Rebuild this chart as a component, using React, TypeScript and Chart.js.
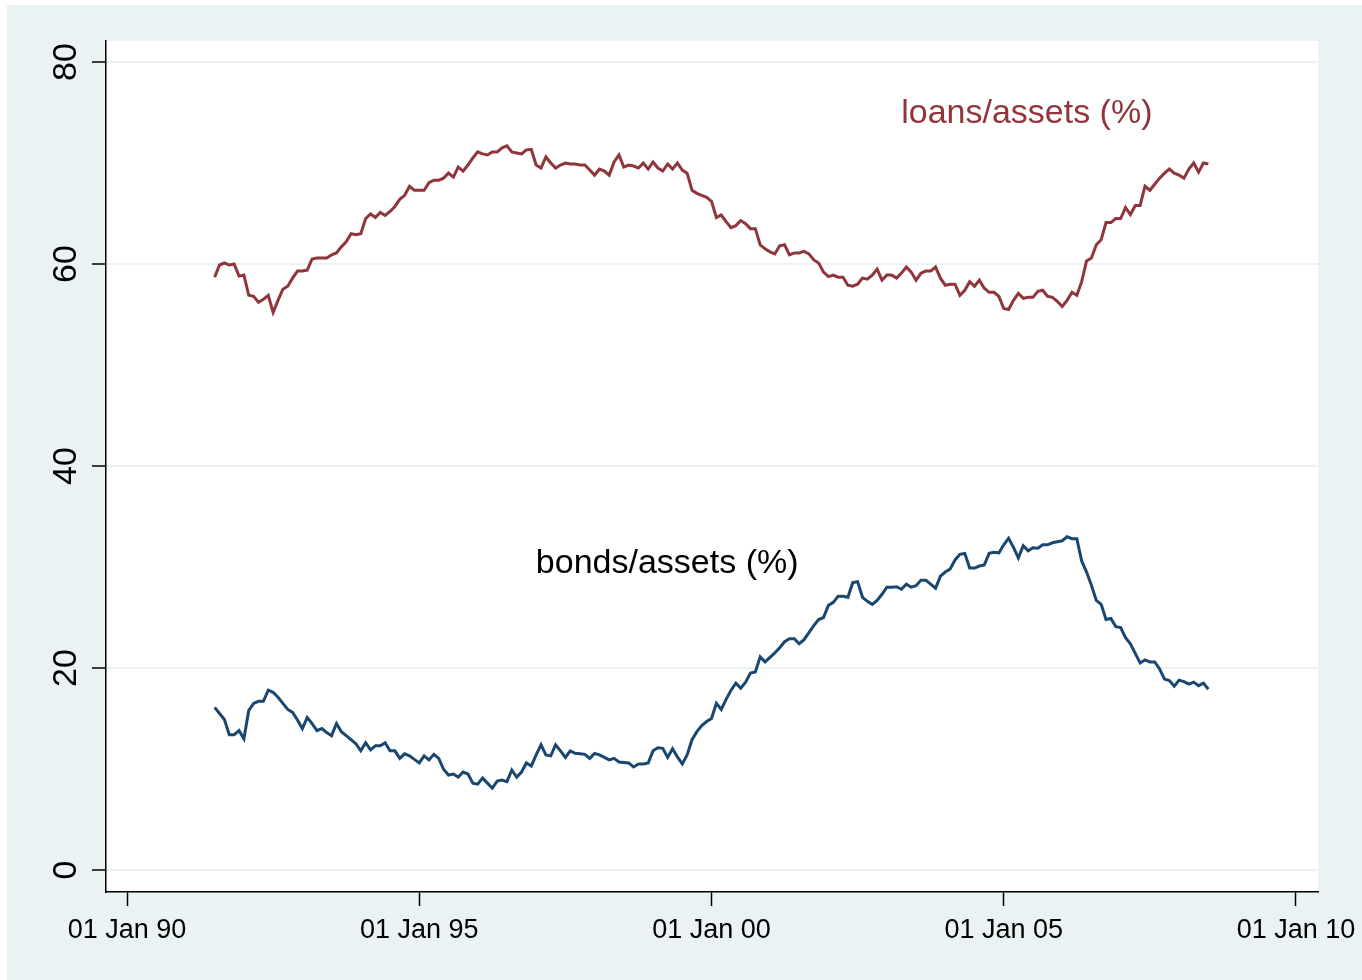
import React, { useEffect, useRef } from "react";
import { Chart, registerables } from "chart.js";

Chart.register(...registerables);

// Monthly observations, first one is July 1991
const START_YEAR = 1991;
const START_MONTH = 7;

const loansAssets = [
  58.7, 59.9, 60.1, 59.9, 60.0, 58.8, 58.9, 56.9, 56.8, 56.2, 56.5, 56.9,
  55.2, 56.4, 57.5, 57.8, 58.6, 59.3, 59.3, 59.4, 60.5, 60.6, 60.6, 60.6,
  60.9, 61.1, 61.7, 62.2, 63.0, 62.9, 63.0, 64.5, 64.95, 64.6, 65.1, 64.8,
  65.2, 65.7, 66.4, 66.8, 67.7, 67.3, 67.3, 67.3, 68.05, 68.3, 68.3, 68.5,
  69.0, 68.6, 69.6, 69.2, 69.8, 70.5, 71.1, 70.9, 70.8, 71.1, 71.1, 71.5,
  71.7, 71.1, 71.0, 70.9, 71.3, 71.35, 69.8, 69.5, 70.6, 70.0, 69.5, 69.8,
  70.0, 69.9, 69.9, 69.8, 69.8, 69.3, 68.8, 69.4, 69.2, 68.8, 70.1, 70.8,
  69.6, 69.8, 69.7, 69.5, 70.0, 69.4, 70.1, 69.5, 69.2, 69.9, 69.4, 70.0,
  69.3, 69.0, 67.3, 67.0, 66.8, 66.6, 66.2, 64.6, 64.85, 64.2, 63.6, 63.8,
  64.3, 64.0, 63.5, 63.5, 61.9, 61.5, 61.2, 61.0, 61.8, 61.9, 60.9, 61.1,
  61.1, 61.25, 61.0, 60.4, 60.1, 59.2, 58.75, 58.9, 58.7, 58.7, 57.9, 57.8,
  58.0, 58.6, 58.5, 58.9, 59.5, 58.4, 58.9, 58.9, 58.6, 59.1, 59.7, 59.2,
  58.4, 59.1, 59.3, 59.3, 59.7, 58.6, 57.9, 58.0, 58.0, 56.9, 57.4, 58.25,
  57.8, 58.4, 57.6, 57.2, 57.2, 56.8, 55.6, 55.5, 56.4, 57.1, 56.6, 56.7,
  56.7, 57.3, 57.4, 56.8, 56.7, 56.3, 55.8, 56.4, 57.2, 56.9, 58.25, 60.3,
  60.6, 61.9, 62.4, 64.1, 64.1, 64.5, 64.5, 65.6, 64.9, 65.8, 65.8, 67.7,
  67.3, 67.9, 68.5, 69.0, 69.4, 69.0, 68.8, 68.5, 69.4, 70.0, 69.1, 70.0,
  69.9,
];

const bondsAssets = [
  16.1, 15.5, 14.9, 13.4, 13.4, 13.8, 13.0, 15.8, 16.5, 16.7, 16.7, 17.8,
  17.6, 17.1, 16.5, 15.9, 15.6, 14.85, 14.0, 15.1, 14.5, 13.8, 14.0, 13.6,
  13.3, 14.5, 13.7, 13.3, 12.9, 12.5, 11.8, 12.6, 11.9, 12.3, 12.3, 12.6,
  11.8, 11.8, 11.05, 11.5, 11.3, 10.95, 10.6, 11.3, 10.9, 11.45, 11.05, 9.97,
  9.4, 9.5, 9.2, 9.7, 9.5, 8.6, 8.5, 9.1, 8.6, 8.1, 8.8, 8.9,
  8.75, 9.9, 9.2, 9.7, 10.6, 10.3, 11.4, 12.4, 11.4, 11.3, 12.4, 11.8,
  11.15, 11.8, 11.55, 11.5, 11.45, 11.05, 11.55, 11.4, 11.15, 10.9, 11.05, 10.7,
  10.65, 10.6, 10.2, 10.5, 10.5, 10.6, 11.8, 12.1, 12.05, 11.15, 12.0, 11.2,
  10.5, 11.4, 12.9, 13.7, 14.3, 14.7, 15.0, 16.5, 15.9, 16.9, 17.8, 18.5,
  18.0, 18.6, 19.5, 19.6, 21.1, 20.6, 21.05, 21.5, 22.0, 22.6, 22.9, 22.9,
  22.4, 22.8, 23.5, 24.2, 24.8, 25.0, 26.2, 26.5, 27.1, 27.1, 27.0, 28.45,
  28.55, 27.0, 26.6, 26.3, 26.7, 27.3, 28.0, 28.0, 28.05, 27.8, 28.3, 28.0,
  28.15, 28.7, 28.7, 28.3, 27.9, 29.1, 29.5, 29.8, 30.7, 31.25, 31.35, 29.9,
  29.9, 30.1, 30.2, 31.35, 31.45, 31.4, 32.2, 32.85, 31.95, 30.9, 32.1, 31.6,
  31.9, 31.85, 32.2, 32.2, 32.4, 32.5, 32.6, 33.0, 32.8, 32.8, 30.6, 29.5,
  28.2, 26.7, 26.3, 24.8, 24.9, 24.1, 24.0, 23.0, 22.4, 21.45, 20.5, 20.8,
  20.6, 20.6, 19.9, 18.9, 18.75, 18.2, 18.8, 18.65, 18.4, 18.6, 18.25, 18.5,
  17.9,
];

const yTickValues = [0, 20, 40, 60, 80];
const xTickYears = [1990, 1995, 2000, 2005, 2010];
const xTickLabels = ["01 Jan 90", "01 Jan 95", "01 Jan 00", "01 Jan 05", "01 Jan 10"];

const seriesNames = ["loans/assets (%)", "bonds/assets (%)"];
const seriesColors = ["#90353B", "#1A476F"];
const labelColors = ["#90353B", "#000000"];
// text label anchors, in data units (year, percent)
const labelYears = [2003.245, 1996.995];
const labelValues = [74.85, 30.29];

const X_MIN = 1989.6407;
const X_MAX = 2010.3764;
const Y_MIN = -2.178;
const Y_MAX = 82.08;

const FONT = '"Liberation Sans", Arial, Helvetica, sans-serif';
const BG = "#EAF2F3";

const monthToYear = (i: number) => START_YEAR + (START_MONTH - 1 + i) / 12;

const plotBackground = {
  id: "plotBackground",
  beforeDraw(chart: any) {
    const { ctx, chartArea } = chart;
    ctx.save();
    ctx.fillStyle = "#ffffff";
    ctx.fillRect(chartArea.left, chartArea.top, chartArea.right - chartArea.left, chartArea.bottom - chartArea.top);
    ctx.restore();
  },
};

const seriesText = {
  id: "seriesText",
  afterDatasetsDraw(chart: any) {
    const { ctx } = chart;
    const xs = chart.scales.x;
    const ys = chart.scales.y;
    ctx.save();
    ctx.font = `34px ${FONT}`;
    ctx.textAlign = "left";
    ctx.textBaseline = "middle";
    seriesNames.forEach((name, k) => {
      ctx.fillStyle = labelColors[k];
      ctx.fillText(name, xs.getPixelForValue(labelYears[k]), ys.getPixelForValue(labelValues[k]));
    });
    ctx.restore();
  },
};

export default function App() {
  const canvasRef = useRef<HTMLCanvasElement | null>(null);

  useEffect(() => {
    if (!canvasRef.current) return;
    const toPoints = (arr: number[]) => arr.map((v, i) => ({ x: monthToYear(i), y: v }));
    const chart = new Chart(canvasRef.current, {
      type: "line",
      data: {
        datasets: [
          {
            label: seriesNames[0],
            data: toPoints(loansAssets),
            borderColor: seriesColors[0],
            borderWidth: 3,
            pointRadius: 0,
            tension: 0,
            fill: false,
          },
          {
            label: seriesNames[1],
            data: toPoints(bondsAssets),
            borderColor: seriesColors[1],
            borderWidth: 3,
            pointRadius: 0,
            tension: 0,
            fill: false,
          },
        ],
      },
      options: {
        responsive: false,
        animation: false,
        devicePixelRatio: 1,
        layout: { padding: { top: 36, right: 44, left: 0, bottom: 0 } },
        plugins: {
          legend: { display: false },
          tooltip: { enabled: false },
        },
        scales: {
          x: {
            type: "linear",
            min: X_MIN,
            max: X_MAX,
            afterBuildTicks: (scale: any) => {
              scale.ticks = xTickYears.map((v) => ({ value: v }));
            },
            afterFit: (scale: any) => {
              scale.height = 88;
              scale.paddingLeft = 0;
              scale.paddingRight = 0;
            },
            ticks: {
              callback: (_v: any, idx: number) => xTickLabels[idx],
              font: { family: FONT, size: 27 },
              color: "#000000",
              padding: 8,
              maxRotation: 0,
              minRotation: 0,
              autoSkip: false,
            },
            grid: {
              drawOnChartArea: false,
              drawTicks: true,
              tickLength: 14,
              tickColor: "#000000",
              tickWidth: 1.5,
            },
            border: { display: true, color: "#000000", width: 1.5 },
          },
          y: {
            type: "linear",
            min: Y_MIN,
            max: Y_MAX,
            afterBuildTicks: (scale: any) => {
              scale.ticks = yTickValues.map((v) => ({ value: v }));
            },
            afterFit: (scale: any) => {
              scale.width = 99;
              scale.paddingTop = 0;
              scale.paddingBottom = 0;
            },
            ticks: {
              callback: (v: any) => String(v),
              font: { family: FONT, size: 34 },
              color: "#000000",
              padding: 6,
              minRotation: 90,
              maxRotation: 90,
              crossAlign: "center",
              autoSkip: false,
            },
            grid: {
              color: BG,
              lineWidth: 2,
              drawTicks: true,
              tickLength: 14,
              tickColor: "#000000",
              tickWidth: 1.5,
            },
            border: { display: true, color: "#000000", width: 1.5 },
          },
        },
      } as any,
      plugins: [plotBackground, seriesText],
    });
    return () => chart.destroy();
  }, []);

  return (
    <div
      style={{
        position: "absolute",
        left: 7,
        top: 5,
        width: 1355,
        height: 975,
        background: BG,
      }}
    >
      <canvas ref={canvasRef} width={1355} height={975} style={{ display: "block" }} />
    </div>
  );
}
